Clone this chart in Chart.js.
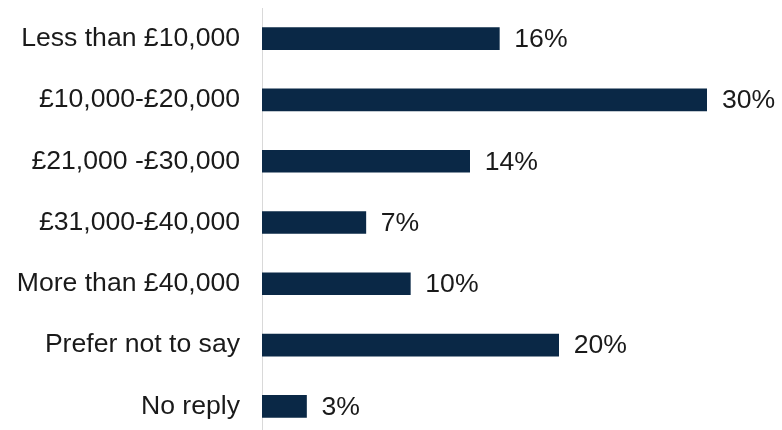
<!DOCTYPE html>
<html lang="en">
<head>
    <meta charset="UTF-8">
    <title>Household income</title>
    <script src="https://cdn.jsdelivr.net/npm/chart.js"></script>
    <style>
        html, body {
            margin: 0;
            background: #fff;
            overflow: hidden;
            width: 782px;
            height: 430px;
        }
        #incomeChart {
            display: block;
        }
    </style>
</head>
<body>
    <canvas id="incomeChart" width="782" height="437"></canvas>

    <script>
        // Income bands and share of responses (%)
        const incomeBands = [
            'Less than £10,000',
            '£10,000-£20,000',
            '£21,000 -£30,000',
            '£31,000-£40,000',
            'More than £40,000',
            'Prefer not to say',
            'No reply'
        ];
        const shares = [16, 30, 14, 7, 10, 20, 3];

        const barColour = '#0a2846';
        const textColour = '#1a1a1a';
        const fontFamily = '"Liberation Sans", Arial, sans-serif';
        const fontSize = 26.6;

        // Writes the percentage just past the end of each bar
        const valueLabels = {
            id: 'valueLabels',
            afterDatasetsDraw(chart) {
                const ctx = chart.ctx;
                const meta = chart.getDatasetMeta(0);
                ctx.save();
                ctx.font = fontSize + 'px ' + fontFamily;
                ctx.fillStyle = textColour;
                ctx.textAlign = 'left';
                ctx.textBaseline = 'middle';
                meta.data.forEach((bar, i) => {
                    ctx.fillText(shares[i] + '%', bar.x + 15, bar.y + 1);
                });
                ctx.restore();
            }
        };

        new Chart(document.getElementById('incomeChart'), {
            type: 'bar',
            data: {
                labels: incomeBands,
                datasets: [{
                    data: shares,
                    backgroundColor: barColour,
                    barThickness: 22
                }]
            },
            options: {
                indexAxis: 'y',
                responsive: false,
                animation: false,
                layout: {
                    padding: { top: 8, right: 75, bottom: 0, left: 0 }
                },
                plugins: {
                    legend: { display: false },
                    tooltip: { enabled: false }
                },
                scales: {
                    x: {
                        display: false,
                        min: 0,
                        max: 30
                    },
                    y: {
                        grid: { display: false, drawTicks: false, tickLength: 0 },
                        border: { display: true, color: '#d9d9d9', width: 1 },
                        ticks: {
                            color: textColour,
                            padding: 22,
                            font: { family: fontFamily, size: fontSize }
                        },
                        afterFit(scale) {
                            // fixed label column, and no extra room above/below the bands
                            scale.width = 262;
                            scale.paddingTop = 0;
                            scale.paddingBottom = 0;
                        }
                    }
                }
            },
            plugins: [valueLabels]
        });
    </script>
</body>
</html>
